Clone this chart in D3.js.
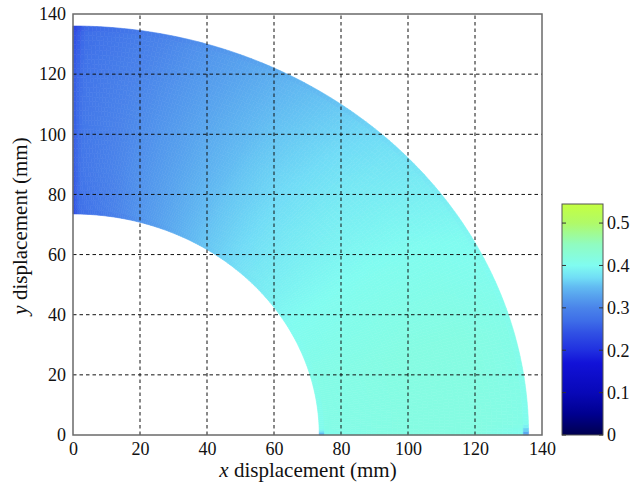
<!DOCTYPE html>
<html><head><meta charset="utf-8">
<script src="https://cdn.jsdelivr.net/npm/d3@7"></script>
<style>
html,body{margin:0;padding:0;background:#fff;}
text{font-family:"Liberation Serif","Times New Roman",serif;}
</style></head>
<body>
<svg id="chart" width="632" height="494"></svg>
<script>
// ---- data ----
const xTicks = [0,20,40,60,80,100,120,140];
const yTicks = [0,20,40,60,80,100,120,140];
const cbTicks = [0,0.1,0.2,0.3,0.4,0.5];
const cbRange = [0, 0.545];
// annulus geometry (mm)
const innerRadius = 73.5;
const outerRadius = 136;
// value table: angle nodes (deg from x axis) x radius nodes
const angleNodes = [0, 1.5, 15, 30, 45, 60, 75, 88.5, 90];
const radiusNodes = [73.5, 75.5, 90, 105, 120, 134, 136];
const fieldValues = [
  // r = 73.5
  [0.29, 0.40, 0.405, 0.398, 0.378, 0.35, 0.31, 0.265, 0.23],
  // r = 75.5
  [0.40, 0.41, 0.41, 0.40, 0.38, 0.352, 0.315, 0.275, 0.24],
  // r = 90
  [0.412, 0.412, 0.412, 0.402, 0.382, 0.355, 0.318, 0.282, 0.25],
  // r = 105
  [0.415, 0.415, 0.415, 0.403, 0.383, 0.355, 0.318, 0.283, 0.252],
  // r = 120
  [0.415, 0.415, 0.415, 0.402, 0.38, 0.352, 0.315, 0.28, 0.25],
  // r = 134
  [0.40, 0.41, 0.41, 0.398, 0.375, 0.347, 0.31, 0.27, 0.235],
  // r = 136
  [0.27, 0.40, 0.405, 0.393, 0.37, 0.342, 0.305, 0.26, 0.21]
];
// colormap stops (value -> colour)
const cmapValues = [0, 0.05, 0.1, 0.17, 0.2, 0.24, 0.27, 0.30, 0.33, 0.35, 0.37, 0.40, 0.45, 0.50, 0.545];
const cmapColors = ["#00004f","#000090","#0808b8","#1212d8","#2030e0","#3050e4","#3e6ee8","#4a84ea","#58a4ee","#62bcf2","#70dcf6","#80fcf0","#90fcc0","#b0fa68","#c4ff40"];

// ---- layout ----
const svg = d3.select("#chart");
const X0 = 73, X1 = 542, Y0 = 435, Y1 = 14;
const x = d3.scaleLinear().domain([0,140]).range([X0,X1]);
const y = d3.scaleLinear().domain([0,140]).range([Y0,Y1]);
const color = d3.scaleLinear().domain(cmapValues).range(cmapColors).interpolate(d3.interpolateRgb).clamp(true);

// bilinear lookup in the table
function lookup(thetaDeg, r){
  const ai = Math.max(0, Math.min(angleNodes.length-2, d3.bisectRight(angleNodes, thetaDeg)-1));
  const ri = Math.max(0, Math.min(radiusNodes.length-2, d3.bisectRight(radiusNodes, r)-1));
  const ta = Math.max(0, Math.min(1,(thetaDeg-angleNodes[ai])/(angleNodes[ai+1]-angleNodes[ai])));
  const tr = Math.max(0, Math.min(1,(r-radiusNodes[ri])/(radiusNodes[ri+1]-radiusNodes[ri])));
  const v00 = fieldValues[ri][ai], v01 = fieldValues[ri][ai+1];
  const v10 = fieldValues[ri+1][ai], v11 = fieldValues[ri+1][ai+1];
  return (v00*(1-ta)+v01*ta)*(1-tr) + (v10*(1-ta)+v11*ta)*tr;
}

// mesh cells
const nA = 180, nR = 40;
const cells = [];
for(let i=0;i<nA;i++){
  const a0 = 90*i/nA, a1 = 90*(i+1)/nA;
  for(let j=0;j<nR;j++){
    const r0 = innerRadius + (outerRadius-innerRadius)*j/nR;
    const r1 = innerRadius + (outerRadius-innerRadius)*(j+1)/nR;
    cells.push({a0,a1,r0,r1,v:lookup((a0+a1)/2,(r0+r1)/2)});
  }
}
const rad = Math.PI/180;
function pt(a,r){return [x(r*Math.cos(a*rad)), y(r*Math.sin(a*rad))];}
const field = svg.append("g");
field.selectAll("path").data(cells).join("path")
  .attr("d", d => {
    const p = [pt(d.a0,d.r0), pt(d.a1,d.r0), pt(d.a1,d.r1), pt(d.a0,d.r1)];
    return "M" + p.map(q=>q.join(",")).join("L") + "Z";
  })
  .attr("fill", d => color(d.v))
  .attr("stroke", d => color(d.v))
  .attr("stroke-width", 0.6);

// grid
const grid = svg.append("g").attr("stroke","#111").attr("stroke-width",1).attr("stroke-dasharray","3.5,3");
grid.selectAll("line.gx").data(xTicks.filter(t=>t>0&&t<140)).join("line")
  .attr("x1",d=>x(d)).attr("x2",d=>x(d)).attr("y1",Y0).attr("y2",Y1);
grid.selectAll("line.gy").data(yTicks.filter(t=>t>0&&t<140)).join("line")
  .attr("y1",d=>y(d)).attr("y2",d=>y(d)).attr("x1",X0).attr("x2",X1);

// frame
svg.append("rect").attr("x",X0).attr("y",Y1).attr("width",X1-X0).attr("height",Y0-Y1)
  .attr("fill","none").attr("stroke","#6a6a6a").attr("stroke-width",1.5);

// axes
const xAxis = svg.append("g").attr("transform",`translate(0,${Y0})`)
  .call(d3.axisBottom(x).tickValues(xTicks).tickSize(0).tickPadding(7).tickFormat(d3.format("d")));
const yAxis = svg.append("g").attr("transform",`translate(${X0},0)`)
  .call(d3.axisLeft(y).tickValues(yTicks).tickSize(0).tickPadding(7).tickFormat(d3.format("d")));
[xAxis,yAxis].forEach(g=>{
  g.select(".domain").remove();
  g.selectAll("text").attr("font-size",18).attr("fill","#111").attr("font-family","Liberation Serif, serif");
});

// axis titles
const xt = svg.append("text").attr("x",308).attr("y",477).attr("text-anchor","middle")
  .attr("font-size",21).attr("fill","#111");
xt.append("tspan").attr("font-style","italic").text("x");
xt.append("tspan").text(" displacement (mm)");
const yt = svg.append("text").attr("transform","translate(27,226) rotate(-90)").attr("text-anchor","middle")
  .attr("font-size",21).attr("fill","#111");
yt.append("tspan").attr("font-style","italic").text("y");
yt.append("tspan").text(" displacement (mm)");

// colour bar
const CX0 = 562, CX1 = 603, CY0 = 435, CY1 = 204;
const cy = d3.scaleLinear().domain(cbRange).range([CY0, CY1]);
const defs = svg.append("defs");
const grad = defs.append("linearGradient").attr("id","cbgrad").attr("x1",0).attr("y1",1).attr("x2",0).attr("y2",0);
grad.selectAll("stop").data(cmapValues).join("stop")
  .attr("offset",d=>(d-cbRange[0])/(cbRange[1]-cbRange[0]))
  .attr("stop-color",(d,i)=>cmapColors[i]);
svg.append("rect").attr("x",CX0).attr("y",CY1).attr("width",CX1-CX0).attr("height",CY0-CY1)
  .attr("fill","url(#cbgrad)").attr("stroke","#555").attr("stroke-width",1);
const cbt = svg.append("g");
cbt.selectAll("line.l").data(cbTicks).join("line").attr("x1",CX0).attr("x2",CX0+4)
  .attr("y1",d=>cy(d)).attr("y2",d=>cy(d)).attr("stroke","#333");
cbt.selectAll("line.r").data(cbTicks).join("line").attr("x1",CX1-4).attr("x2",CX1)
  .attr("y1",d=>cy(d)).attr("y2",d=>cy(d)).attr("stroke","#333");
cbt.selectAll("text").data(cbTicks).join("text")
  .attr("x",CX1+4).attr("y",d=>cy(d)).attr("dy","0.35em")
  .attr("font-size",18).attr("fill","#111").text(d=>d===0?"0":d3.format(".1f")(d));
</script>
</body></html>
